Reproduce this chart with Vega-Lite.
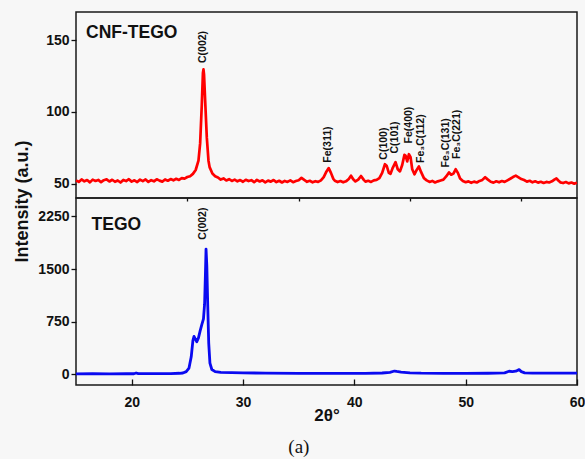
{
"$schema": "https://vega.github.io/schema/vega-lite/v6.json",
"background": "#f7f7f7",
"padding": {"left": 12, "top": 11, "right": 0, "bottom": 2},
"config": {
  "view": {"stroke": "#1a1a1a", "strokeWidth": 1.5},
  "font": "Liberation Sans",
  "axis": {"grid": false, "domain": false, "format": "d", "labelFont": "Liberation Sans", "labelFontWeight": "bold", "labelFontSize": 14, "labelColor": "#111", "tickColor": "#111", "tickWidth": 1.3, "titleFont": "Liberation Sans", "titleFontWeight": "bold", "titleFontSize": 18, "titleColor": "#111"}
},
"datasets": {
  "cnf": [
    {"t":15.00,"i":52.3},{"t":15.25,"i":51.2},{"t":15.50,"i":52.9},{"t":15.75,"i":51.6},{"t":16.00,"i":52.5},{"t":16.25,"i":50.9},{"t":16.50,"i":52.8},{"t":16.75,"i":51.9},{"t":17.00,"i":52.6},{"t":17.25,"i":51.0},{"t":17.50,"i":52.4},{"t":17.75,"i":53.0},{"t":18.00,"i":51.5},{"t":18.25,"i":52.7},{"t":18.50,"i":51.3},{"t":18.75,"i":52.2},{"t":19.00,"i":50.8},{"t":19.25,"i":52.6},{"t":19.50,"i":51.8},{"t":19.75,"i":53.1},{"t":20.00,"i":51.4},{"t":20.25,"i":52.3},{"t":20.50,"i":51.1},{"t":20.75,"i":52.8},{"t":21.00,"i":51.7},{"t":21.25,"i":52.9},{"t":21.50,"i":51.2},{"t":21.75,"i":52.4},{"t":22.00,"i":51.6},{"t":22.25,"i":53.0},{"t":22.50,"i":52.1},{"t":22.75,"i":51.4},{"t":23.00,"i":52.9},{"t":23.25,"i":52.0},{"t":23.50,"i":53.2},{"t":23.75,"i":52.3},{"t":24.00,"i":53.4},{"t":24.25,"i":52.6},{"t":24.50,"i":53.8},{"t":24.75,"i":53.5},{"t":25.00,"i":54.6},{"t":25.25,"i":55.2},{"t":25.50,"i":56.8},{"t":25.75,"i":59.5},{"t":26.00,"i":66},{"t":26.15,"i":78},{"t":26.30,"i":105},{"t":26.40,"i":127},{"t":26.45,"i":129.5},{"t":26.50,"i":126},{"t":26.60,"i":108},{"t":26.75,"i":82},{"t":26.90,"i":66},{"t":27.00,"i":61.5},{"t":27.25,"i":57.0},{"t":27.50,"i":55.2},{"t":27.75,"i":54.3},{"t":28.00,"i":52.8},{"t":28.25,"i":53.6},{"t":28.50,"i":52.2},{"t":28.75,"i":53.1},{"t":29.00,"i":51.9},{"t":29.25,"i":52.8},{"t":29.50,"i":51.6},{"t":29.75,"i":52.5},{"t":30.00,"i":51.3},{"t":30.25,"i":52.7},{"t":30.50,"i":51.8},{"t":30.75,"i":52.4},{"t":31.00,"i":51.0},{"t":31.25,"i":52.6},{"t":31.50,"i":51.5},{"t":31.75,"i":52.3},{"t":32.00,"i":50.9},{"t":32.25,"i":52.1},{"t":32.50,"i":51.4},{"t":32.75,"i":52.5},{"t":33.00,"i":51.1},{"t":33.25,"i":52.0},{"t":33.50,"i":50.8},{"t":33.75,"i":51.9},{"t":34.00,"i":51.2},{"t":34.25,"i":52.3},{"t":34.50,"i":51.0},{"t":34.75,"i":51.8},{"t":35.00,"i":52.4},{"t":35.25,"i":54.0},{"t":35.50,"i":52.6},{"t":35.75,"i":51.3},{"t":36.00,"i":52.0},{"t":36.25,"i":50.9},{"t":36.50,"i":51.7},{"t":36.75,"i":51.2},{"t":37.00,"i":52.3},{"t":37.25,"i":54.5},{"t":37.50,"i":58.5},{"t":37.70,"i":60.8},{"t":37.90,"i":57.5},{"t":38.10,"i":53.5},{"t":38.25,"i":52.0},{"t":38.50,"i":51.1},{"t":38.75,"i":51.8},{"t":39.00,"i":50.9},{"t":39.25,"i":51.6},{"t":39.50,"i":53.2},{"t":39.70,"i":55.5},{"t":39.90,"i":53.0},{"t":40.10,"i":51.5},{"t":40.35,"i":52.8},{"t":40.60,"i":55.3},{"t":40.85,"i":52.6},{"t":41.00,"i":51.4},{"t":41.25,"i":52.0},{"t":41.50,"i":51.2},{"t":41.75,"i":52.3},{"t":42.00,"i":52.6},{"t":42.25,"i":53.8},{"t":42.50,"i":57.5},{"t":42.75,"i":63.5},{"t":42.90,"i":62.5},{"t":43.10,"i":57.5},{"t":43.25,"i":56.8},{"t":43.45,"i":61.0},{"t":43.70,"i":65.0},{"t":43.90,"i":60.0},{"t":44.10,"i":58.5},{"t":44.30,"i":63.0},{"t":44.50,"i":70.0},{"t":44.60,"i":69.5},{"t":44.75,"i":65.5},{"t":44.90,"i":70.5},{"t":45.05,"i":68.5},{"t":45.20,"i":60.0},{"t":45.40,"i":56.5},{"t":45.60,"i":59.5},{"t":45.80,"i":62.0},{"t":46.00,"i":58.0},{"t":46.25,"i":53.8},{"t":46.50,"i":52.3},{"t":46.75,"i":51.2},{"t":47.00,"i":51.9},{"t":47.25,"i":50.8},{"t":47.50,"i":51.6},{"t":47.75,"i":52.2},{"t":48.00,"i":52.8},{"t":48.25,"i":55.0},{"t":48.50,"i":57.8},{"t":48.70,"i":56.2},{"t":48.90,"i":57.0},{"t":49.10,"i":60.0},{"t":49.30,"i":57.5},{"t":49.50,"i":53.5},{"t":49.75,"i":51.8},{"t":50.00,"i":51.0},{"t":50.25,"i":51.6},{"t":50.50,"i":50.6},{"t":50.75,"i":51.4},{"t":51.00,"i":50.8},{"t":51.25,"i":51.9},{"t":51.50,"i":52.6},{"t":51.75,"i":54.5},{"t":52.00,"i":52.8},{"t":52.25,"i":51.3},{"t":52.50,"i":50.7},{"t":52.75,"i":51.6},{"t":53.00,"i":50.9},{"t":53.25,"i":51.8},{"t":53.50,"i":51.2},{"t":53.75,"i":52.3},{"t":54.00,"i":53.4},{"t":54.25,"i":54.6},{"t":54.50,"i":55.6},{"t":54.75,"i":54.4},{"t":55.00,"i":53.2},{"t":55.25,"i":52.5},{"t":55.50,"i":51.4},{"t":55.75,"i":52.0},{"t":56.00,"i":50.9},{"t":56.25,"i":51.6},{"t":56.50,"i":50.7},{"t":56.75,"i":51.3},{"t":57.00,"i":50.5},{"t":57.25,"i":51.2},{"t":57.50,"i":50.8},{"t":57.75,"i":51.6},{"t":58.00,"i":53.0},{"t":58.15,"i":53.6},{"t":58.35,"i":52.0},{"t":58.50,"i":50.9},{"t":58.75,"i":50.4},{"t":59.00,"i":51.1},{"t":59.25,"i":50.2},{"t":59.50,"i":50.8},{"t":59.75,"i":50.0},{"t":60.00,"i":50.6}
  ],
  "tego": [
    {"t":15,"i":8},{"t":16.5,"i":9},{"t":18,"i":8},{"t":19.5,"i":9},{"t":20.2,"i":9},{"t":20.4,"i":20},{"t":20.6,"i":10},{"t":22,"i":10},{"t":23.5,"i":12},{"t":24.3,"i":16},{"t":24.6,"i":20},{"t":24.9,"i":40},{"t":25.15,"i":90},{"t":25.35,"i":250},{"t":25.5,"i":480},{"t":25.6,"i":540},{"t":25.7,"i":510},{"t":25.85,"i":465},{"t":26.0,"i":520},{"t":26.15,"i":620},{"t":26.3,"i":710},{"t":26.45,"i":790},{"t":26.55,"i":1000},{"t":26.62,"i":1400},{"t":26.68,"i":1785},{"t":26.75,"i":1550},{"t":26.83,"i":1000},{"t":26.92,"i":450},{"t":27.03,"i":160},{"t":27.2,"i":70},{"t":27.5,"i":40},{"t":28,"i":28},{"t":29,"i":25},{"t":30,"i":22},{"t":32,"i":18},{"t":35,"i":15},{"t":38,"i":15},{"t":41,"i":15},{"t":42.5,"i":20},{"t":43.2,"i":30},{"t":43.6,"i":48},{"t":43.8,"i":42},{"t":44.2,"i":32},{"t":45,"i":22},{"t":46,"i":17},{"t":48,"i":15},{"t":50,"i":15},{"t":52,"i":16},{"t":53.5,"i":22},{"t":53.9,"i":45},{"t":54.2,"i":40},{"t":54.5,"i":46},{"t":54.8,"i":68},{"t":55.0,"i":40},{"t":55.3,"i":22},{"t":56,"i":18},{"t":58,"i":17},{"t":60,"i":18}
  ],
  "cnfPeaks": [
    {"t":26.42,"i":134,"label":"C(002)"},
    {"t":37.63,"i":64.6,"label":"Fe(311)"},
    {"t":42.64,"i":66.7,"label":"C(100)"},
    {"t":43.63,"i":71,"label":"C(101)"},
    {"t":44.89,"i":78,"label":"Fe(400)"},
    {"t":45.95,"i":64.4,"label":"Fe₃C(112)"},
    {"t":48.26,"i":61.3,"label":"Fe₃C(131)"},
    {"t":49.25,"i":67.2,"label":"Fe₃C(221)"}
  ],
  "cnfName": [{"t":15.9,"i":151.6,"label":"CNF-TEGO"}],
  "tegoPeaks": [{"t":26.42,"i":1919,"label":"C(002)"}],
  "tegoName": [{"t":16.4,"i":2055,"label":"TEGO"}]
},
"title": {"text": "(a)", "orient": "bottom", "anchor": "middle", "font": "Liberation Serif", "fontSize": 19, "fontWeight": "normal", "color": "#111", "offset": 14},
"bounds": "flush",
"spacing": 0,
"vconcat": [
  {
    "width": 501, "height": 186,
    "layer": [
      {"data": {"name": "cnf"},
       "mark": {"type": "line", "color": "#ff0000", "strokeWidth": 2.7, "strokeJoin": "round"},
       "encoding": {
         "x": {"field": "t", "type": "quantitative", "scale": {"domain": [15, 60], "nice": false}, "axis": null},
         "y": {"field": "i", "type": "quantitative", "scale": {"domain": [40, 169.5], "nice": false, "zero": false},
               "axis": {"values": [50, 100, 150], "tickSize": 5, "labelPadding": 2, "title": "Intensity (a.u.)", "titleX": -49, "titleY": 189, "titleBaseline": "alphabetic"}}
       }},
      {"data": {"name": "cnfPeaks"},
       "mark": {"type": "text", "angle": 270, "align": "left", "baseline": "middle", "fontSize": 10.5, "fontWeight": "bold", "font": "Liberation Sans, DejaVu Sans", "color": "#111"},
       "encoding": {
         "x": {"field": "t", "type": "quantitative"},
         "y": {"field": "i", "type": "quantitative"},
         "text": {"field": "label"}
       }},
      {"data": {"name": "cnfName"},
       "mark": {"type": "text", "align": "left", "baseline": "alphabetic", "fontSize": 17.5, "fontWeight": "bold", "color": "#111"},
       "encoding": {
         "x": {"field": "t", "type": "quantitative"},
         "y": {"field": "i", "type": "quantitative"},
         "text": {"field": "label"}
       }}
    ]
  },
  {
    "width": 501, "height": 187,
    "layer": [
      {"data": {"name": "tego"},
       "mark": {"type": "line", "color": "#0a0af0", "strokeWidth": 2.8, "strokeJoin": "round"},
       "encoding": {
         "x": {"field": "t", "type": "quantitative", "scale": {"domain": [15, 60], "nice": false},
               "axis": {"values": [20, 30, 40, 50, 60], "tickSize": -6, "labelPadding": 16, "labelFlush": false, "title": "2θ°", "titleFontSize": 17, "titleY": 35, "titleBaseline": "alphabetic"}},
         "y": {"field": "i", "type": "quantitative", "scale": {"domain": [-151, 2512], "nice": false, "zero": false},
               "axis": {"values": [0, 750, 1500, 2250], "tickSize": 5, "labelPadding": 2, "title": null}}
       }},
      {"data": {"name": "tegoPeaks"},
       "mark": {"type": "text", "angle": 270, "align": "left", "baseline": "middle", "fontSize": 10.5, "fontWeight": "bold", "color": "#111"},
       "encoding": {
         "x": {"field": "t", "type": "quantitative", "axis": {"values": [25, 35, 45, 55], "labels": false, "tickSize": -3, "title": null}},
         "y": {"field": "i", "type": "quantitative", "axis": null},
         "text": {"field": "label"}
       }},
      {"data": {"name": "tegoName"},
       "mark": {"type": "text", "align": "left", "baseline": "alphabetic", "fontSize": 17.5, "fontWeight": "bold", "color": "#111"},
       "encoding": {
         "x": {"field": "t", "type": "quantitative", "axis": null},
         "y": {"field": "i", "type": "quantitative", "axis": null},
         "text": {"field": "label"}
       }}
    ],
    "resolve": {"axis": {"x": "independent", "y": "independent"}}
  }
]
}
